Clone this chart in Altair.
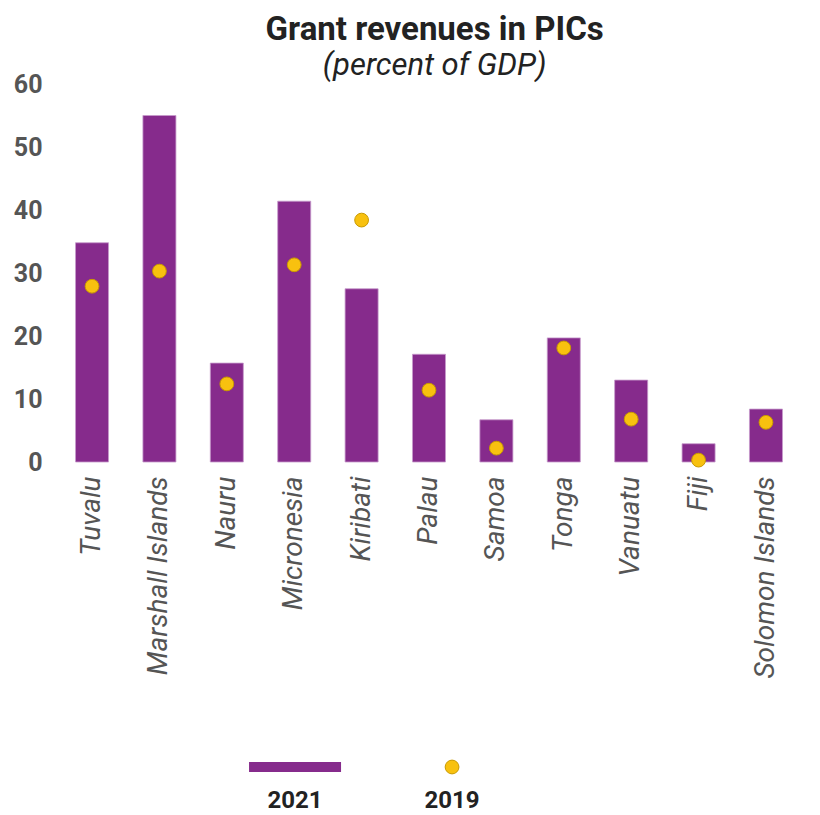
import altair as alt
import pandas as pd

countries = ["Tuvalu", "Marshall Islands", "Nauru", "Micronesia", "Kiribati", "Palau",
             "Samoa", "Tonga", "Vanuatu", "Fiji", "Solomon Islands"]
v2021 = [34.8, 55.0, 15.7, 41.4, 27.5, 17.1, 6.7, 19.7, 13.0, 2.9, 8.4]
v2019 = [27.9, 30.3, 12.4, 31.3, 38.4, 11.4, 2.2, 18.1, 6.8, 0.3, 6.3]
legend_years = [2021, 2019]

PURPLE = "#862B8C"
YELLOW = "#F8C10F"
DOT_STROKE = "#C99A00"

df = pd.DataFrame({"country": countries, "y2021": v2021, "y2019": v2019})

x = alt.X("country:N", sort=countries, title=None,
          scale=alt.Scale(paddingInner=0.51, paddingOuter=0.349),
          axis=alt.Axis(labelAngle=-90, labelAlign="right", labelBaseline="middle",
                        labelFont="Roboto", labelFontStyle="italic", labelFontSize=28,
                        labelColor="#555555", labelPadding=14, labelLimit=400))

bars = alt.Chart(df).mark_bar(color=PURPLE, stroke="#C79BCB", strokeWidth=0.8).encode(
    x=x,
    y=alt.Y("y2021:Q", title=None,
            scale=alt.Scale(domain=[0, 60], nice=False),
            axis=alt.Axis(values=[0, 10, 20, 30, 40, 50, 60], labelFont="Roboto",
                          labelFontWeight="bold", labelFontSize=25, labelColor="#555555",
                          labelPadding=10)),
)
dots = alt.Chart(df).mark_point(filled=True, size=190, fill=YELLOW, stroke=DOT_STROKE,
                                strokeWidth=1, opacity=1).encode(
    x=alt.X("country:N", sort=countries),
    y=alt.Y("y2019:Q"),
)
main = alt.layer(bars, dots).properties(width=754, height=378)

leg_df = pd.DataFrame({"year": legend_years})
lx = alt.X("year:Q", axis=None,
           scale=alt.Scale(domain=[2024.096, 2015.816], nice=False, zero=False))
leg_bar = alt.Chart(leg_df).transform_filter(alt.datum.year == 2021).mark_tick(
    orient="horizontal", size=92, thickness=10, color=PURPLE, opacity=1).encode(x=lx)
leg_dot = alt.Chart(leg_df).transform_filter(alt.datum.year == 2019).mark_point(
    filled=True, size=190, fill=YELLOW, stroke=DOT_STROKE, strokeWidth=1, opacity=1).encode(x=lx)
leg_txt = alt.Chart(leg_df).mark_text(dy=34, font="Roboto", fontWeight="bold",
                                      fontSize=24, color="#222222").encode(
    x=lx, text="year:N")
legend = alt.layer(leg_bar, leg_dot, leg_txt).properties(width=650, height=40)

chart = alt.vconcat(main, legend, spacing=285, bounds="flush").properties(
    title=alt.Title("Grant revenues in PICs", subtitle="(percent of GDP)",
                    font="Roboto", fontSize=33, fontWeight="bold", color="#222222",
                    subtitleFont="Roboto", subtitleFontStyle="italic",
                    subtitleFontSize=31, subtitleColor="#222222", subtitlePadding=4,
                    anchor="middle", offset=-9, dx=25),
    padding={"top": 6, "left": 5, "right": 5, "bottom": 5},
).configure_view(stroke=None).configure_axis(
    grid=False, domain=False, ticks=False
)

chart.save("out.html", embed_options={"renderer": "svg", "actions": False})
